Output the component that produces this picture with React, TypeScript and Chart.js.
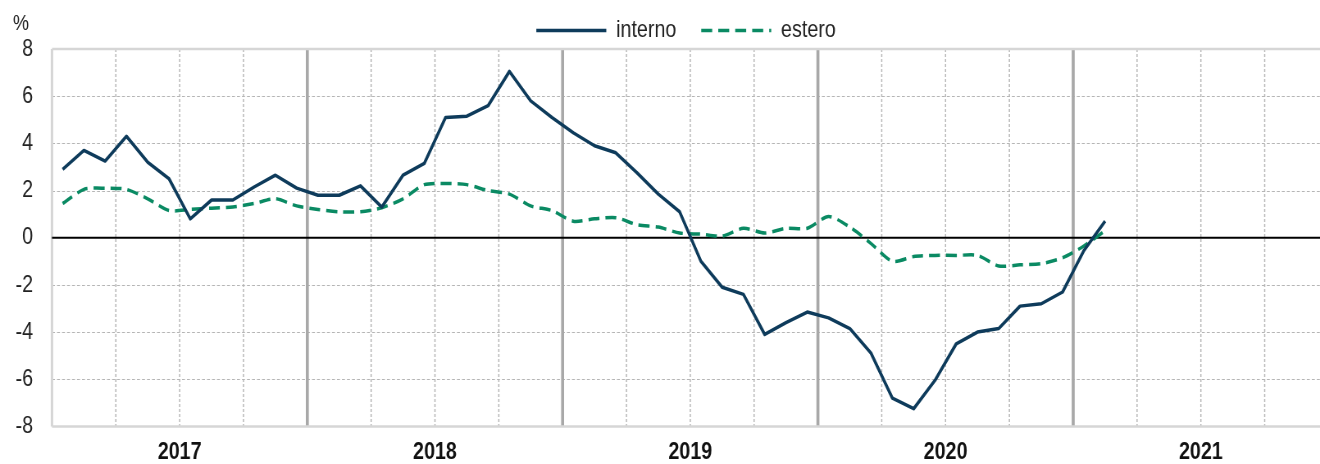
import React, { useEffect, useRef } from 'react';
import { Chart, registerables } from 'chart.js';

Chart.register(...registerables);

// ---- data ----
const years = ['2017', '2018', '2019', '2020', '2021'];
const monthNames = ['gen', 'feb', 'mar', 'apr', 'mag', 'giu', 'lug', 'ago', 'set', 'ott', 'nov', 'dic'];

const interno = [
  2.9, 3.7, 3.25, 4.3, 3.2, 2.5, 0.8, 1.6, 1.6, 2.15, 2.65, 2.1,
  1.8, 1.8, 2.2, 1.3, 2.65, 3.15, 5.1, 5.15, 5.6, 7.05, 5.8, 5.1,
  4.45, 3.9, 3.6, 2.75, 1.85, 1.1, -1.0, -2.1, -2.4, -4.1, -3.6, -3.15,
  -3.4, -3.85, -4.9, -6.8, -7.25, -6.05, -4.5, -4.0, -3.85, -2.9, -2.8, -2.3,
  -0.55, 0.7,
];

const estero = [
  1.45, 2.05, 2.1, 2.05, 1.65, 1.15, 1.2, 1.25, 1.3, 1.45, 1.65, 1.35,
  1.2, 1.1, 1.1, 1.27, 1.65, 2.25, 2.3, 2.25, 2.0, 1.85, 1.35, 1.15,
  0.7, 0.8, 0.85, 0.55, 0.45, 0.2, 0.15, 0.07, 0.4, 0.2, 0.4, 0.4,
  0.9, 0.45, -0.25, -1.0, -0.8, -0.75, -0.75, -0.75, -1.2, -1.15, -1.1, -0.85,
  -0.35, 0.3,
];

const periods = years.flatMap((y) => monthNames.map((m) => `${m} ${y}`)).slice(0, interno.length);

const yTicks = [-8, -6, -4, -2, 0, 2, 4, 6, 8];

// The reference uses a narrow typeface; we draw with a regular sans and
// compress the canvas horizontally to get the same proportions.
const SX = 0.82;
const VIEW_W = 1320;
const VIEW_H = 464;
const W = Math.round(VIEW_W / SX);

const FONT = "'Liberation Sans', Arial, sans-serif";
const NAVY = '#0e3b5b';
const GREEN = '#0a8a63';

const gridPlugin = {
  id: 'excelGrid',
  beforeLayout(chart: any) {
    const lg = chart.legend;
    if (lg && !lg._patchedFit) {
      const orig = lg.fit;
      lg.fit = function () {
        orig.call(this);
        this.height = 61;
      };
      lg._patchedFit = true;
    }
  },
  beforeDatasetsDraw(chart: any) {
    const { ctx, chartArea: a, scales } = chart;
    const x = scales.x;
    const y = scales.y;
    ctx.save();
    // horizontal dashed grid
    ctx.lineWidth = 1;
    ctx.strokeStyle = '#b5b5b5';
    ctx.setLineDash([3 / SX, 2 / SX]);
    for (const v of yTicks) {
      if (v === 0 || v === y.min || v === y.max) continue;
      const py = Math.round(y.getPixelForValue(v)) + 0.5;
      ctx.beginPath();
      ctx.moveTo(a.left, py);
      ctx.lineTo(a.right, py);
      ctx.stroke();
    }
    // vertical quarterly dashed grid
    ctx.lineWidth = 1.2 / SX;
    ctx.setLineDash([3, 2]);
    for (let m = 3; m < x.max; m += 3) {
      if (m % 12 === 0) continue;
      const px = x.getPixelForValue(m);
      ctx.beginPath();
      ctx.moveTo(px, a.top);
      ctx.lineTo(px, a.bottom);
      ctx.stroke();
    }
    ctx.setLineDash([]);
    // year separators
    ctx.lineWidth = 3 / SX;
    ctx.strokeStyle = '#a8a8a8';
    for (let m = 12; m < x.max; m += 12) {
      const px = x.getPixelForValue(m);
      ctx.beginPath();
      ctx.moveTo(px, a.top);
      ctx.lineTo(px, a.bottom);
      ctx.stroke();
    }
    // plot frame (light)
    ctx.strokeStyle = '#d6d6d6';
    ctx.lineWidth = 2.5;
    ctx.beginPath();
    ctx.moveTo(a.right, a.top);
    ctx.lineTo(a.left, a.top);
    ctx.moveTo(a.left, a.bottom);
    ctx.lineTo(a.right, a.bottom);
    ctx.stroke();
    ctx.lineWidth = 2.5 / SX;
    ctx.beginPath();
    ctx.moveTo(a.left, a.top);
    ctx.lineTo(a.left, a.bottom);
    ctx.stroke();
    // zero line
    ctx.lineWidth = 2;
    ctx.strokeStyle = '#000000';
    const pz = y.getPixelForValue(0);
    ctx.beginPath();
    ctx.moveTo(a.left, pz);
    ctx.lineTo(a.right, pz);
    ctx.stroke();
    ctx.restore();
  },
  afterDraw(chart: any) {
    const { ctx } = chart;
    ctx.save();
    ctx.font = `22px ${FONT}`;
    ctx.fillStyle = '#222222';
    ctx.textAlign = 'center';
    ctx.textBaseline = 'middle';
    ctx.fillText('%', 21 / SX, 24);
    ctx.restore();
  },
};

export default function App() {
  const ref = useRef<HTMLCanvasElement | null>(null);

  useEffect(() => {
    if (!ref.current) return;
    const chart = new Chart(ref.current, {
      type: 'line',
      data: {
        labels: periods,
        datasets: [
          {
            label: 'interno',
            data: interno.map((v, i) => ({ x: i + 0.5, y: v })),
            borderColor: NAVY,
            backgroundColor: NAVY,
            borderWidth: 3.5,
            pointRadius: 0,
            tension: 0,
            borderJoinStyle: 'round',
            fill: false,
          },
          {
            label: 'estero',
            data: estero.map((v, i) => ({ x: i + 0.5, y: v })),
            borderColor: GREEN,
            backgroundColor: GREEN,
            borderWidth: 3.5,
            borderDash: [11 / SX, 6 / SX],
            pointRadius: 0,
            tension: 0.25,
            fill: false,
          },
        ],
      },
      options: {
        responsive: false,
        maintainAspectRatio: false,
        animation: false,
        devicePixelRatio: 1,
        layout: { padding: { top: -12, left: 0, right: 0, bottom: 0 } },
        scales: {
          x: {
            type: 'linear',
            min: 0,
            max: 59.6,
            grid: { display: false, drawTicks: false },
            border: { display: false },
            afterBuildTicks: (s: any) => {
              s.ticks = years.map((_, i) => ({ value: 6 + 12 * i }));
            },
            afterFit: (s: any) => {
              s.height = 37;
            },
            ticks: {
              autoSkip: false,
              maxRotation: 0,
              padding: 12,
              color: '#111111',
              font: { family: FONT, size: 24, weight: 'bold' },
              callback: (_v: any, i: number) => years[i],
            },
          },
          y: {
            min: -8,
            max: 8,
            grid: { display: false, drawTicks: false },
            border: { display: false },
            afterFit: (s: any) => {
              s.width = 52 / SX;
            },
            ticks: {
              stepSize: 2,
              padding: 19 / SX,
              color: '#222222',
              font: { family: FONT, size: 24 },
            },
          },
        },
        plugins: {
          legend: {
            display: true,
            position: 'top',
            align: 'center',
            fullSize: false,
            labels: {
              usePointStyle: true,
              pointStyle: 'line',
              pointStyleWidth: 70 / SX,
              padding: 30.4,
              color: '#222222',
              font: { family: FONT, size: 24 },
              generateLabels: (c: any) => {
                const items = (Chart.defaults as any).plugins.legend.labels.generateLabels(c);
                return items.map((it: any) => {
                  const ds = c.data.datasets[it.datasetIndex];
                  return {
                    ...it,
                    pointStyle: 'line',
                    lineDash: ds.borderDash || [],
                    lineWidth: ds.borderWidth,
                    strokeStyle: ds.borderColor,
                  };
                });
              },
            },
          },
          tooltip: { enabled: false },
        },
      } as any,
      plugins: [gridPlugin],
    });
    return () => chart.destroy();
  }, []);

  return (
    <div
      style={{
        position: 'fixed',
        left: 0,
        top: 0,
        width: VIEW_W,
        height: VIEW_H,
        overflow: 'hidden',
        background: '#ffffff',
      }}
    >
      <canvas
        ref={ref}
        width={W}
        height={VIEW_H}
        style={{ width: `${VIEW_W}px`, height: `${VIEW_H}px`, display: 'block' }}
      />
    </div>
  );
}
